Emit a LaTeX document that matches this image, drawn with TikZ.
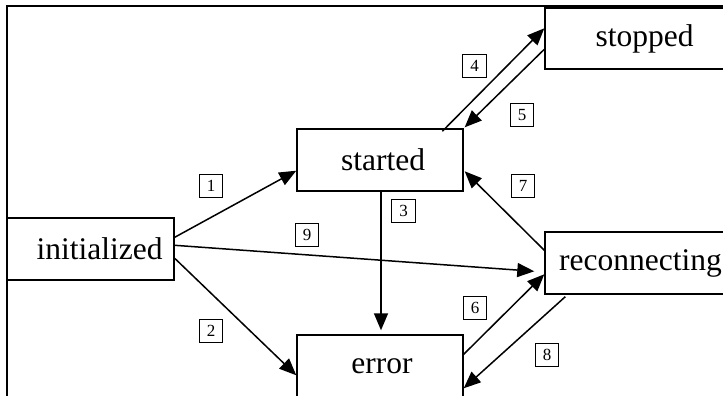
\documentclass[tikz,border=0pt]{standalone}
\usepackage{fontspec}
\setmainfont{Liberation Serif}
\usetikzlibrary{arrows.meta,calc}
\begin{document}
\begin{tikzpicture}[x=1pt,y=-1pt,
  state/.style={draw,line width=1.4pt,inner sep=0pt,minimum height=62pt,
    font=\fontsize{31.5}{36}\selectfont},
  lbl/.style={draw,line width=1pt,inner sep=0pt,minimum width=23.5pt,minimum height=23.5pt,
    font=\fontsize{17}{19}\selectfont},
  tr/.style={line width=1.5pt,-{Triangle[length=17pt,width=14pt]}}]
\useasboundingbox (0,0) rectangle (723,396);
\clip (0,0) rectangle (723,396);
\draw[line width=2.6pt] (7,6) rectangle (760,420);
% states
\node[state,minimum width=167pt] (init) at (90.5,249) {\hspace*{18pt}initialized};
\node[state,minimum width=166pt] (started) at (380,160) {\hspace*{6pt}started};
\node[state,minimum width=199pt,minimum height=61pt] (stopped) at (644.5,38.5) {stopped};
\node[state,minimum width=191pt] (recon) at (640.5,263) {reconnecting};
\node[state,minimum width=166pt] (error) at (380,366) {\hspace*{4pt}error};
% labels
\node[lbl] (l1) at (211,186) {1};
\node[lbl] (l2) at (211,331) {2};
\node[lbl] (l3) at (403.5,211) {3};
\node[lbl] (l4) at (474.5,66) {4};
\node[lbl] (l5) at (522,115) {5};
\node[lbl] (l6) at (475,308) {6};
\node[lbl] (l7) at (523,186) {7};
\node[lbl] (l8) at (547,355) {8};
\node[lbl] (l9) at (307,235) {9};
% transitions
\draw[tr] ($(init.north east)+(0,20)$) -- ($(started.south west)+(0,-21)$);
\draw[tr] ($(init.north east)+(0,41)$) -- ($(error.north west)+(0,41)$);
\draw[tr] ($(init.north east)+(0,28)$) -- ($(recon.north west)+(-10,40)$);
\draw[tr] ($(started.south)+(1,0)$) -- ($(error.north)+(1,-4)$);
\draw[tr] ($(started.north west)+(146,3)$) -- ($(stopped.north west)+(0,21)$);
\draw[tr] ($(stopped.north west)+(0,42)$) -- ($(started.north east)+(1,-1)$);
\draw[tr] ($(recon.north west)+(0,19)$) -- ($(started.north east)+(1,43)$);
\draw[tr] ($(error.north east)+(0,20)$) -- ($(recon.north west)+(0,43)$);
\draw[tr] ($(recon.south west)+(21,2)$) -- ($(error.north east)+(0,54)$);
\end{tikzpicture}
\end{document}
